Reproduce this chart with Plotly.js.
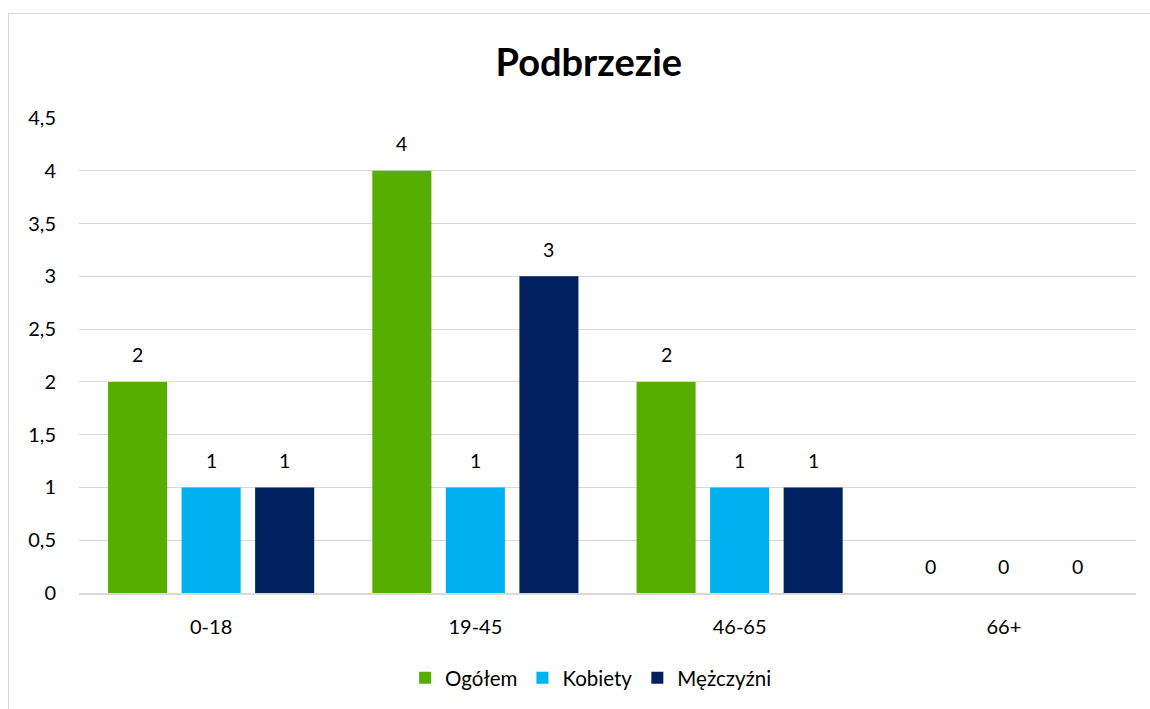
<!DOCTYPE html>
<html>
<head>
<meta charset="utf-8">
<script src="https://cdn.plot.ly/plotly-3.0.1.min.js"></script>
<style>
html,body{margin:0;padding:0;background:#fff;}
#frame{position:absolute;left:8px;top:13px;width:1160px;height:720px;border:1.5px solid #d9d9d9;box-sizing:border-box;}
#chart{position:absolute;left:0;top:0;width:1150px;height:709px;}
</style>
</head>
<body>
<div id="frame"></div>
<div id="chart"></div>
<script>
const categories = ['0-18', '19-45', '46-65', '66+'];
const ogolem = [2, 4, 2, 0];
const kobiety = [1, 1, 1, 0];
const mezczyzni = [1, 3, 1, 0];
const seriesNames = ['Ogółem', 'Kobiety', 'Mężczyźni'];
const seriesColors = ['#56ae00', '#00b0f0', '#002060'];
const tickVals = [0, 0.5, 1, 1.5, 2, 2.5, 3, 3.5, 4, 4.5];
const tickText = ['0', '0,5', '1', '1,5', '2', '2,5', '3', '3,5', '4', '4,5'];

const font = 'Lato, "Open Sans", sans-serif';
const allSeries = [ogolem, kobiety, mezczyzni];
const data = allSeries.map((vals, i) => ({
  type: 'bar',
  name: seriesNames[i],
  x: categories,
  y: vals,
  marker: {color: seriesColors[i]},
  hoverinfo: 'none'
}));

// value labels above bars, offset per series within group
const W = 1150, mL = 79, mR = 14, bargap = 0.165;
const catWidth = (W - mL - mR) / categories.length;
const slot = catWidth * (1 - bargap) / allSeries.length;
const annotations = [];
allSeries.forEach((vals, i) => {
  vals.forEach((v, j) => {
    annotations.push({
      x: categories[j], y: v, xref: 'x', yref: 'y',
      text: String(v), showarrow: false,
      xshift: (i - (allSeries.length - 1) / 2) * slot,
      yshift: 27, yanchor: 'middle', xanchor: 'center',
      font: {family: font, size: 19.5, color: '#000'}
    });
  });
});

const layout = {
  width: 1150, height: 709,
  paper_bgcolor: 'rgba(0,0,0,0)', plot_bgcolor: '#fff',
  margin: {l: mL, r: mR, t: 118, b: 116},
  title: {text: '<b>Podbrzezie</b>', font: {family: font, size: 38, color: '#000'}, x: 0.512, xref: 'container', xanchor: 'center', y: 0.912, yref: 'container', yanchor: 'middle'},
  barmode: 'group', bargap: bargap, bargroupgap: 0.197,
  xaxis: {type: 'category', tickfont: {family: font, size: 20, color: '#000'}, showline: true, linecolor: '#d9d9d9', linewidth: 2, ticks: '', showgrid: false, zeroline: false, ticklabelstandoff: 15},
  yaxis: {range: [0, 4.5], tickvals: tickVals, ticktext: tickText, tickfont: {family: font, size: 20, color: '#000'}, showgrid: true, gridcolor: '#d9d9d9', gridwidth: 1, zeroline: false, showline: false, ticks: '', ticklabelstandoff: 22},
  legend: {orientation: 'h', x: 0.514, xref: 'container', xanchor: 'center', y: 0.044, yref: 'container', yanchor: 'middle', font: {family: font, size: 20.5, color: '#000'}, itemwidth: 30, traceorder: 'normal', tracegroupgap: 0},
  annotations: annotations,
  showlegend: true
};
Plotly.newPlot('chart', data, layout, {staticPlot: true});
</script>
</body>
</html>
